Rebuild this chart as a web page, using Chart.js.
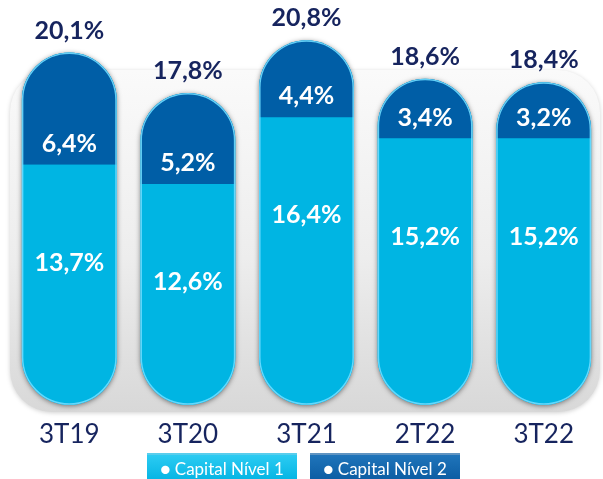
<!DOCTYPE html>
<html>
<head>
<meta charset="utf-8">
<script src="https://cdn.jsdelivr.net/npm/chart.js@4"></script>
<style>
  body { margin: 0; background: #fff; width: 603px; height: 479px; overflow: hidden; position: relative; }
  #wrap { position: absolute; left: 0; top: 0; width: 603px; height: 456px; }
  #legend { position: absolute; top: 453px; left: 0; width: 603px; height: 30px; }
  .lg-item {
    position: absolute; top: 0; height: 30px; color: #fff;
    font: 17px Lato, sans-serif; line-height: 27px; text-align: center;
    box-sizing: border-box; border-top: 2px solid rgba(255,255,255,0.35);
  }
</style>
</head>
<body>
<div id="wrap"><canvas id="chart" width="603" height="456"></canvas></div>
<div id="legend"></div>
<script>
const categories = ['3T19', '3T20', '3T21', '2T22', '3T22'];
const nivel1 = [13.7, 12.6, 16.4, 15.2, 15.2];
const nivel2 = [6.4, 5.2, 4.4, 3.4, 3.2];
const totals = [20.1, 17.8, 20.8, 18.6, 18.4];
const seriesNames = ['Capital Nível 1', 'Capital Nível 2'];

const lightBlue = '#00b5e3';
const darkBlue = '#005ea6';
const navy = '#16245e';

const fmt = v => v.toFixed(1).replace('.', ',') + '%';

// grey rounded panel behind the bars
const panelPlugin = {
    id: 'panel',
    beforeDraw(chart) {
        const ctx = chart.ctx;
        const g = ctx.createLinearGradient(0, 70, 0, 412);
        g.addColorStop(0, '#fafafa');
        g.addColorStop(0.55, '#ededed');
        g.addColorStop(1, '#d8d8d8');
        ctx.save();
        ctx.shadowColor = 'rgba(0,0,0,0.18)';
        ctx.shadowBlur = 4;
        ctx.shadowOffsetY = 1;
        ctx.fillStyle = g;
        ctx.beginPath();
        ctx.roundRect(10, 70, 590, 342, 42);
        ctx.fill();
        ctx.restore();
    }
};

function pillPath(chart, i) {
    const bottomEl = chart.getDatasetMeta(0).data[i];
    const topEl = chart.getDatasetMeta(1).data[i];
    const left = bottomEl.x - bottomEl.width / 2;
    const w = bottomEl.width;
    const top = topEl.y;
    const h = bottomEl.base - top;
    return [left, top, w, h, w / 2];
}

// pill shaped stacks: shadow first, then clip the bars to the pill
const pillPlugin = {
    id: 'pill',
    beforeDatasetsDraw(chart) {
        const ctx = chart.ctx;
        ctx.save();
        ctx.shadowColor = 'rgba(0,0,0,0.5)';
        ctx.shadowBlur = 5;
        ctx.shadowOffsetY = 1;
        ctx.fillStyle = lightBlue;
        categories.forEach((c, i) => {
            ctx.beginPath();
            ctx.roundRect(...pillPath(chart, i));
            ctx.fill();
        });
        ctx.restore();
        ctx.save();
        ctx.beginPath();
        categories.forEach((c, i) => ctx.roundRect(...pillPath(chart, i)));
        ctx.clip();
    },
    afterDatasetsDraw(chart) {
        const ctx = chart.ctx;
        // light edge
        ctx.strokeStyle = 'rgba(110,220,255,0.9)';
        ctx.lineWidth = 3;
        categories.forEach((c, i) => {
            ctx.beginPath();
            ctx.roundRect(...pillPath(chart, i));
            ctx.stroke();
        });
        ctx.restore();

        const m0 = chart.getDatasetMeta(0).data;
        const m1 = chart.getDatasetMeta(1).data;
        ctx.save();
        ctx.textAlign = 'center';
        ctx.textBaseline = 'middle';
        ctx.font = 'bold 25px Lato, sans-serif';
        categories.forEach((c, i) => {
            const x = m0[i].x;
            ctx.fillStyle = '#fff';
            ctx.fillText(fmt(nivel2[i]), x, m0[i].y - 21);
            ctx.fillText(fmt(nivel1[i]), x, m0[i].y + 98);
            ctx.fillStyle = navy;
            ctx.fillText(fmt(totals[i]), x, m1[i].y - 22);
        });
        ctx.restore();
    }
};

const chart = new Chart(document.getElementById('chart'), {
    type: 'bar',
    data: {
        labels: categories,
        datasets: [
            { label: seriesNames[0], data: nivel1, backgroundColor: lightBlue },
            { label: seriesNames[1], data: nivel2, backgroundColor: darkBlue }
        ]
    },
    options: {
        responsive: false,
        animation: false,
        layout: { padding: { left: 10, right: 0, top: 0, bottom: 0 } },
        datasets: {
            bar: { barPercentage: 0.8, categoryPercentage: 1, borderWidth: 0, borderSkipped: false }
        },
        scales: {
            x: {
                stacked: true,
                grid: { display: false },
                border: { display: false },
                ticks: { color: navy, font: { family: 'Lato', size: 26 }, padding: 6 }
            },
            y: {
                stacked: true,
                display: false,
                min: 0,
                max: 23.1
            }
        },
        plugins: {
            legend: { display: false },
            tooltip: { enabled: false }
        }
    },
    plugins: [panelPlugin, pillPlugin]
});

// legend boxes built from the datasets
const legendEl = document.getElementById('legend');
const boxLeft = [147, 310];
chart.data.datasets.forEach((ds, i) => {
    const d = document.createElement('div');
    d.className = 'lg-item';
    d.style.left = boxLeft[i] + 'px';
    d.style.width = '150px';
    d.style.background = i === 0
        ? 'linear-gradient(#2ccbf2, #00b2e2)'
        : 'linear-gradient(#1f74ba, #0a5aa0)';
    d.textContent = '\u25CF ' + ds.label;
    legendEl.appendChild(d);
});
</script>
</body>
</html>
